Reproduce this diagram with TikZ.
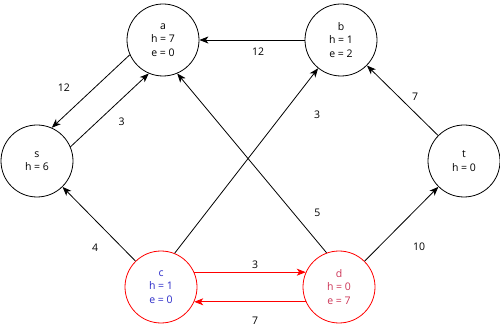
\documentclass[tikz,border=0pt]{standalone}
\usepackage{fontspec}
\setmainfont{Open Sans}
\usepackage{xcolor}
\usetikzlibrary{arrows.meta}
\definecolor{FlowRed}{HTML}{FF0000}
\definecolor{LabelBlue}{HTML}{2B2BC8}
\definecolor{LabelRed}{HTML}{CC3355}

\begin{document}
\begin{tikzpicture}[x=1pt, y=-1pt, every node/.style={font=\fontsize{10.5}{13.5}\selectfont},
		vert/.style={draw,circle,line width=0.8pt,minimum size=72pt,inner sep=0pt,align=center},
		arr/.style={-{Stealth[length=9pt,width=7pt,inset=2.5pt]},line width=0.8pt},
		lbl/.style={inner sep=0pt}]
		\useasboundingbox (0,0) rectangle (500,328);
		\node[vert] (a) at (163,40) {a\\h = 7\\e = 0};
		\node[vert] (b) at (341,40) {b\\h = 1\\e = 2};
		\node[vert] (s) at (37,161) {s\\h = 6};
		\node[vert] (t) at (464,161) {t\\h = 0};
		\node[vert,draw=FlowRed,text=LabelBlue] (c) at (161,287) {c\\h = 1\\e = 0};
		\node[vert,draw=FlowRed,text=LabelRed] (d) at (339,287) {d\\h = 0\\e = 7};
		% residual edges
		\draw[arr] (b) -- node[lbl,pos=0.5,shift={(6,12)}] {12} (a);
		\draw[arr] (a.204.6) -- node[lbl,pos=0.5,shift={(-27,-3.5)}] {12} (s.66);
		\draw[arr] (s.23) -- node[lbl,pos=0.5,shift={(12,12)}] {3} (a.247);
		\draw[arr] (c) -- node[lbl,pos=0.5,shift={(-4,24)}] {4} (s);
		\draw[arr] (c.68) -- node[lbl,pos=0.75,shift={(35,0)}] {3} (b.231);
		\draw[arr] (d.110) -- node[lbl,pos=0.223,shift={(24,0)}] {5} (a.293);
		\draw[arr] (d) -- node[lbl,pos=0.5,shift={(17.5,23)}] {10} (t);
		\draw[arr] (t) -- node[lbl,pos=0.5,shift={(12.5,-3.5)}] {7} (b);
		% push between c and d
		\draw[arr,FlowRed] (c.24) -- node[lbl,pos=0.5,shift={(5,-7.5)},text=black] {3} (d.156);
		\draw[arr,FlowRed] (d.204) -- node[lbl,pos=0.5,shift={(5,18.5)},text=black] {7} (c.336);
	\end{tikzpicture}
\end{document}
